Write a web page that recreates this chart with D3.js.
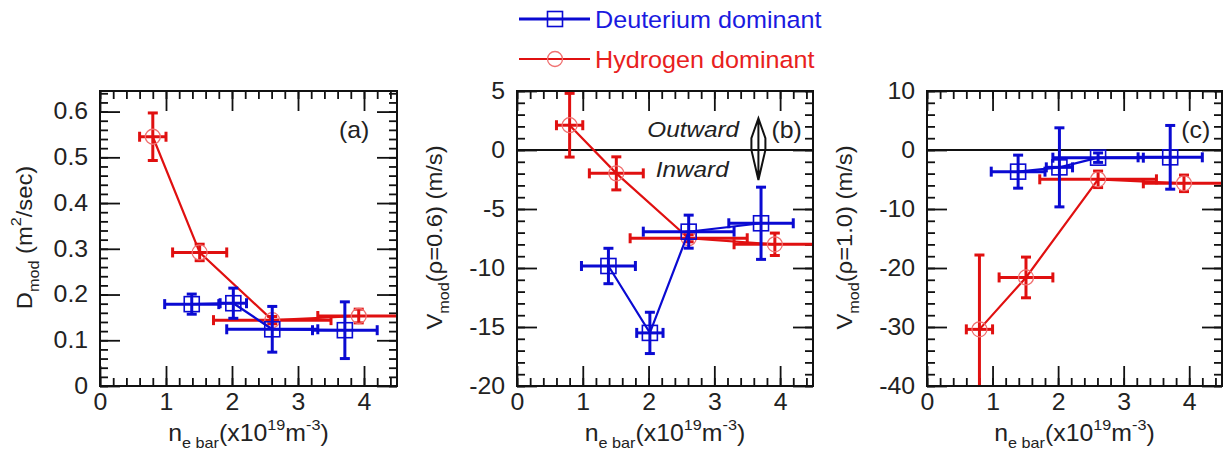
<!DOCTYPE html>
<html>
<head>
<meta charset="utf-8">
<script src="https://cdn.jsdelivr.net/npm/d3@7"></script>
<style>
  body { margin: 0; background: #fff; }
  text { font-family: "Liberation Sans", Arial, sans-serif; }
</style>
</head>
<body>
<svg id="chart" width="1227" height="458"></svg>
<script>
// x positions (line averaged density, 1e19 m^-3) and their error bars
const deutX = [1.39, 2.02, 2.61, 3.71];
const deutXErr = [0.41, 0.20, 0.69, 0.49];
const hydX = [0.80, 1.51, 2.61, 3.92];
const hydXErr = [0.20, 0.41, 0.89, 0.62];

// (a) D_mod
const deutD = [0.179, 0.181, 0.124, 0.122];
const deutDErr = [0.022, 0.033, 0.050, 0.062];
const hydD = [0.545, 0.292, 0.144, 0.153];
const hydDErr = [0.052, 0.018, 0.008, 0.015];

// (b) V_mod at rho = 0.6
const deutV06 = [-9.83, -15.5, -6.92, -6.21];
const deutV06Err = [1.5, 1.75, 1.4, 3.06];
const hydV06 = [2.1, -1.98, -7.48, -7.99];
const hydV06Err = [2.7, 1.4, 0.3, 0.95];

// (c) V_mod at rho = 1.0
const deutV10 = [-3.67, -2.94, -1.3, -1.24];
const deutV10Err = [2.8, 6.7, 0.8, 5.4];
const hydV10 = [-30.4, -21.6, -4.97, -5.65];
const hydV10Err = [12.6, 3.45, 1.4, 1.4];

const xMajor = [0, 1, 2, 3, 4];
const xMinor = d3.range(0, 23).map(i => i * 0.2);

const blue = "#0a0ad2";
const red = "#e01010";
const redMarker = "#f07070";
const S = 1.08; // the figure's font runs a bit wider than Arial

const svg = d3.select("#chart");
const top0 = 91, bottom0 = 386;

const panels = [
  { id: "a", left: 100, width: 297, yDomain: [0, 0.645],
    yMajor: d3.range(0, 7).map(i => i / 10), yMinor: d3.range(0, 33).map(i => i * 0.02),
    fmt: d => d === 0 ? "0" : d3.format(".1f")(d),
    deut: deutD, deutErr: deutDErr, hyd: hydD, hydErr: hydDErr,
    zeroLine: false, label: "(a)", labelPos: [4.08, 0.542],
    titleX: 32, title: [["D", 0], ["mod", 1], [" (m", 0], ["2", 2], ["/sec)", 0]] },
  { id: "b", left: 517, width: 296, yDomain: [-20, 5],
    yMajor: d3.range(-20, 6, 5), yMinor: d3.range(-20, 6, 1),
    fmt: d => String(d),
    deut: deutV06, deutErr: deutV06Err, hyd: hydV06, hydErr: hydV06Err,
    zeroLine: true, label: "(b)", labelPos: [4.33, 0.99],
    titleX: 442, title: [["V", 0], ["mod", 1], ["(\u03c1=0.6) (m/s)", 0]] },
  { id: "c", left: 927, width: 295, yDomain: [-40, 10],
    yMajor: d3.range(-40, 11, 10), yMinor: d3.range(-40, 11, 2),
    fmt: d => String(d),
    deut: deutV10, deutErr: deutV10Err, hyd: hydV10, hydErr: hydV10Err,
    zeroLine: true, label: "(c)", labelPos: [4.32, 1.98],
    titleX: 852, title: [["V", 0], ["mod", 1], ["(\u03c1=1.0) (m/s)", 0]] }
];

function styleAxis(sel) {
  sel.select(".domain").remove();
  sel.selectAll("line").attr("stroke", "#111").attr("stroke-width", 1.8);
  sel.selectAll("text").attr("font-size", 23).attr("fill", "#222")
    .attr("font-family", "'Liberation Sans', Arial, sans-serif")
    .attr("transform", `scale(${S},1)`);
}

// text placed at (x, y) and stretched along its direction
function wideText(parent, x, y, rot) {
  return parent.append("text")
    .attr("transform", `translate(${x},${y})${rot ? ` rotate(${rot})` : ""} scale(${S},1)`);
}

function addRich(textSel, parts, small) {
  // parts: [text, kind] kind 0 normal, 1 subscript, 2 superscript
  let prev = 0;
  parts.forEach(([t, k]) => {
    const off = k === 1 ? 7 : k === 2 ? -11 : 0;
    textSel.append("tspan")
      .attr("dy", off - prev)
      .attr("font-size", k === 0 ? null : small)
      .text(t);
    prev = off;
  });
}

function drawSeries(g, x, y, xs, xe, ys, ye, color, marker) {
  const pts = xs.map((v, i) => ({ x: v, xe: xe[i], y: ys[i], ye: ye[i] }));
  const cap = 5;
  const eb = g.append("g").attr("stroke", color).attr("stroke-width", 3).attr("fill", "none");
  pts.forEach(d => {
    eb.append("line").attr("x1", x(d.x)).attr("x2", x(d.x)).attr("y1", y(d.y - d.ye)).attr("y2", y(d.y + d.ye));
    eb.append("line").attr("x1", x(d.x) - cap).attr("x2", x(d.x) + cap).attr("y1", y(d.y - d.ye)).attr("y2", y(d.y - d.ye));
    eb.append("line").attr("x1", x(d.x) - cap).attr("x2", x(d.x) + cap).attr("y1", y(d.y + d.ye)).attr("y2", y(d.y + d.ye));
    eb.append("line").attr("x1", x(d.x - d.xe)).attr("x2", x(d.x + d.xe)).attr("y1", y(d.y)).attr("y2", y(d.y));
    eb.append("line").attr("x1", x(d.x - d.xe)).attr("x2", x(d.x - d.xe)).attr("y1", y(d.y) - cap).attr("y2", y(d.y) + cap);
    eb.append("line").attr("x1", x(d.x + d.xe)).attr("x2", x(d.x + d.xe)).attr("y1", y(d.y) - cap).attr("y2", y(d.y) + cap);
  });
  g.append("path").datum(pts)
    .attr("d", d3.line().x(d => x(d.x)).y(d => y(d.y)))
    .attr("fill", "none").attr("stroke", color).attr("stroke-width", 2.2);
  if (marker === "square") {
    g.selectAll(null).data(pts).join("rect")
      .attr("x", d => x(d.x) - 7.5).attr("y", d => y(d.y) - 7.5)
      .attr("width", 15).attr("height", 15)
      .attr("fill", "none").attr("stroke", color).attr("stroke-width", 1.6);
  } else {
    g.selectAll(null).data(pts).join("circle")
      .attr("cx", d => x(d.x)).attr("cy", d => y(d.y)).attr("r", 7.5)
      .attr("fill", "none").attr("stroke", redMarker).attr("stroke-width", 1.3);
  }
}

panels.forEach(p => {
  const x = d3.scaleLinear().domain([0, 4.5]).range([p.left, p.left + p.width]);
  const y = d3.scaleLinear().domain(p.yDomain).range([bottom0, top0]);
  const g = svg.append("g").attr("id", "panel" + p.id);

  g.append("clipPath").attr("id", "clip" + p.id)
    .append("rect").attr("x", p.left).attr("y", top0)
    .attr("width", p.width).attr("height", bottom0 - top0);

  // ticks on all four sides, pointing in
  const R = p.left + p.width;
  g.append("g").attr("transform", `translate(0,${bottom0})`)
    .call(d3.axisBottom(x).tickValues(xMinor).tickSize(-8).tickFormat("")).call(styleAxis);
  g.append("g").attr("transform", `translate(0,${bottom0})`)
    .call(d3.axisBottom(x).tickValues(xMajor).tickSize(-20).tickPadding(8).tickFormat(d3.format("d"))).call(styleAxis);
  g.append("g").attr("transform", `translate(0,${top0})`)
    .call(d3.axisTop(x).tickValues(xMinor).tickSize(-8).tickFormat("")).call(styleAxis);
  g.append("g").attr("transform", `translate(0,${top0})`)
    .call(d3.axisTop(x).tickValues(xMajor).tickSize(-20).tickFormat("")).call(styleAxis);
  g.append("g").attr("transform", `translate(${p.left},0)`)
    .call(d3.axisLeft(y).tickValues(p.yMinor).tickSize(-8).tickFormat("")).call(styleAxis);
  g.append("g").attr("transform", `translate(${p.left},0)`)
    .call(d3.axisLeft(y).tickValues(p.yMajor).tickSize(-20).tickPadding(11).tickFormat(p.fmt)).call(styleAxis);
  g.append("g").attr("transform", `translate(${R},0)`)
    .call(d3.axisRight(y).tickValues(p.yMinor).tickSize(-8).tickFormat("")).call(styleAxis);
  g.append("g").attr("transform", `translate(${R},0)`)
    .call(d3.axisRight(y).tickValues(p.yMajor).tickSize(-20).tickFormat("")).call(styleAxis);

  const plot = g.append("g").attr("clip-path", `url(#clip${p.id})`);
  if (p.zeroLine) {
    plot.append("line").attr("x1", p.left).attr("x2", R).attr("y1", y(0)).attr("y2", y(0))
      .attr("stroke", "#111").attr("stroke-width", 2);
  }
  drawSeries(plot, x, y, hydX, hydXErr, p.hyd, p.hydErr, red, "circle");
  drawSeries(plot, x, y, deutX, deutXErr, p.deut, p.deutErr, blue, "square");

  g.append("rect").attr("x", p.left).attr("y", top0)
    .attr("width", p.width).attr("height", bottom0 - top0)
    .attr("fill", "none").attr("stroke", "#111").attr("stroke-width", 2);

  // panel label
  wideText(g, x(p.labelPos[0]), y(p.labelPos[1]))
    .attr("text-anchor", "end").attr("font-size", 23).attr("fill", "#222").text(p.label);

  // x title
  const xt = wideText(g, x(2.25), 441)
    .attr("text-anchor", "middle").attr("font-size", 23).attr("fill", "#222");
  addRich(xt, [["n", 0], ["e bar", 1], ["(x10", 0], ["19", 2], ["m", 0], ["-3", 2], [")", 0]], 15);

  // y title
  const yt = wideText(g, p.titleX, (top0 + bottom0) / 2 - 1, -90)
    .attr("text-anchor", "middle").attr("font-size", 22).attr("fill", "#222");
  addRich(yt, p.title, 15);

  if (p.id === "b") {
    wideText(g, x(1.98), y(1.13))
      .attr("font-size", 22.5).attr("font-style", "italic").attr("fill", "#222").text("Outward");
    wideText(g, x(2.11), y(-2.26))
      .attr("font-size", 22.5).attr("font-style", "italic").attr("fill", "#222").text("Inward");
    const ax = x(3.67), yTop = y(2.69), yBot = y(-2.54), yMidA = y(1.0), yMidB = y(0);
    g.append("path")
      .attr("d", `M${ax},${yTop}L${ax - 7},${yMidA}L${ax - 7},${yMidB}L${ax},${yBot}L${ax + 7},${yMidB}L${ax + 7},${yMidA}Z M${ax},${yTop}L${ax},${yBot}`)
      .attr("fill", "none").attr("stroke", "#111").attr("stroke-width", 2);
  }
});

// legend
const legendItems = [
  { name: "Deuterium dominant", color: blue, text: "#1a1ae0", marker: "square", y: 19 },
  { name: "Hydrogen dominant", color: red, text: "#e82020", marker: "circle", y: 59 }
];
const lg = svg.append("g");
legendItems.forEach(d => {
  lg.append("line").attr("x1", 519).attr("x2", 590).attr("y1", d.y).attr("y2", d.y)
    .attr("stroke", d.color).attr("stroke-width", d.marker === "square" ? 3 : 2.2);
  if (d.marker === "square") {
    lg.append("rect").attr("x", 555 - 7.5).attr("y", d.y - 7.5).attr("width", 15).attr("height", 15)
      .attr("fill", "none").attr("stroke", d.color).attr("stroke-width", 1.6);
  } else {
    lg.append("circle").attr("cx", 555).attr("cy", d.y).attr("r", 7.5)
      .attr("fill", "none").attr("stroke", redMarker).attr("stroke-width", 1.3);
  }
  wideText(lg, 595, d.y + 8.5).attr("font-size", 23.3)
    .attr("fill", d.text).text(d.name);
});
</script>
</body>
</html>
